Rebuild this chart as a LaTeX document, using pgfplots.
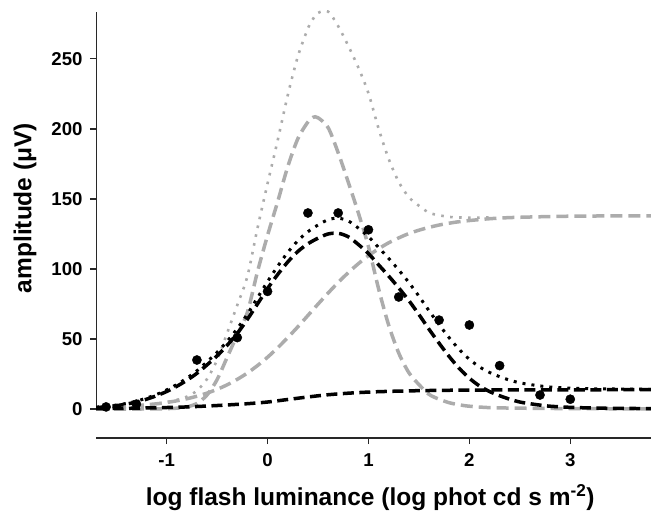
\documentclass[border=0pt]{standalone}
\usepackage{fontspec}
\setmainfont{Liberation Sans}
\usepackage{pgfplots}
\pgfplotsset{compat=1.18}
\definecolor{lgray}{RGB}{172,172,172}
\definecolor{axcol}{RGB}{40,40,40}
\begin{document}
\begin{tikzpicture}
\begin{axis}[name=ax, scale only axis, width=555bp, height=438bp,
  xmin=-1.7, xmax=3.8, ymin=-20.7, ymax=292.1,
  axis x line*=bottom, axis y line*=left,
  y axis line style={draw=none},
  x axis line style={line width=1.1bp, axcol},
  xtick={-1,0,1,2,3}, xticklabels={-1,0,1,2,3},
  ytick={0,50,100,150,200,250}, yticklabels={0,50,100,150,200,250},
  tick align=outside, major tick length=6bp,
  tick style={line width=1.1bp, axcol},
  /pgf/number format/assume math mode=true,
  ticklabel style={font=\fontsize{18.6bp}{20bp}\selectfont\bfseries},
  xticklabel style={yshift=-6bp},
  yticklabel style={xshift=-4bp},
  xlabel={log flash luminance (log phot cd s m\textsuperscript{-2})},
  ylabel={amplitude (μV)},
  label style={font=\fontsize{24.5bp}{26bp}\selectfont\bfseries},
  xlabel style={at={(axis description cs:0.494,-0.135)}, anchor=center},
  ylabel style={at={(axis description cs:-0.128,0.525)}, anchor=center},
]
% y axis line (from 0 up)
\draw[line width=1.1bp, axcol] (axis cs:-1.7,0) -- (axis cs:-1.7,283.6);

% gray sigmoid (dashed)
\addplot[lgray, line width=3.5bp, dash pattern=on 12bp off 6bp, smooth] coordinates {
(-1.7,0.93)(-1.5,1.48)(-1.3,2.35)(-1.1,3.72)(-1.0,4.67)(-0.9,5.86)(-0.8,7.32)(-0.7,9.14)(-0.6,11.36)(-0.5,14.05)(-0.4,17.3)(-0.3,21.2)(-0.2,25.7)(-0.1,31.0)(0.0,37.0)(0.1,43.7)(0.2,51.0)(0.3,58.7)(0.4,66.8)(0.5,74.9)(0.6,82.8)(0.7,90.4)(0.8,97.4)(0.9,103.8)(1.0,109.5)(1.1,114.4)(1.2,118.7)(1.3,122.2)(1.4,125.3)(1.5,127.7)(1.6,129.7)(1.7,131.4)(1.8,132.7)(1.9,133.8)(2.0,134.6)(2.2,135.9)(2.4,136.7)(2.7,137.3)(3.0,137.7)(3.4,137.9)(3.8,138.0)};
% gray peak (dashed)
\addplot[lgray, line width=3.5bp, dash pattern=on 12bp off 6bp, smooth] coordinates {
(-1.7,0)(-1.5,0)(-1.3,0)(-1.1,0.1)(-1.0,0.3)(-0.9,0.6)(-0.8,1.5)(-0.7,4)(-0.6,10)(-0.5,21)(-0.4,37)(-0.3,53)(-0.2,69)(-0.1,98)(0.0,124)(0.1,148)(0.2,173)(0.3,193)(0.4,205)(0.45,208.3)(0.5,208)(0.6,201)(0.7,183)(0.8,162)(0.9,140)(1.0,116)(1.1,86)(1.2,60)(1.3,40)(1.4,26)(1.5,17.5)(1.6,10.5)(1.7,7)(1.8,4.5)(1.9,3)(2.0,2)(2.2,1)(2.5,0.6)(3.0,0.3)(3.8,0.1)};
% gray sum (dotted)
\addplot[lgray, line width=2.6bp, dash pattern=on 2.6bp off 6.4bp, smooth] coordinates {
(-1.7,0.9)(-1.5,1.5)(-1.3,2.4)(-1.1,3.8)(-1.0,5.0)(-0.9,6.5)(-0.8,8.8)(-0.7,13.1)(-0.6,21.4)(-0.5,35)(-0.4,54.3)(-0.3,74.2)(-0.2,94.7)(-0.1,129)(0.0,161)(0.1,191.7)(0.2,224)(0.3,251.7)(0.4,271.8)(0.45,278.5)(0.5,282.9)(0.6,283.8)(0.7,273.4)(0.8,259.4)(0.9,243.8)(1.0,225.5)(1.1,200.4)(1.2,178.7)(1.3,162.2)(1.4,151.3)(1.5,145.2)(1.6,140.2)(1.7,138.4)(1.8,137.2)(1.9,136.8)(2.0,136.6)(2.2,136.9)};

% black sigmoid (dashed)
\addplot[black, line width=3.5bp, dash pattern=on 11bp off 5.5bp, smooth] coordinates {
(-1.7,0.3)(-1.4,0.5)(-1.1,0.9)(-0.8,1.5)(-0.5,2.5)(-0.2,3.8)(0.0,5.0)(0.2,6.8)(0.4,8.6)(0.6,10.2)(0.8,11.3)(1.0,12.1)(1.2,12.6)(1.5,13.1)(1.8,13.4)(2.2,13.6)(2.7,13.7)(3.8,13.8)};
% black peak (dashed)
\addplot[black, line width=3.5bp, dash pattern=on 11bp off 5.5bp, smooth] coordinates {
(-1.7,1.0)(-1.6,1.6)(-1.5,2.4)(-1.4,3.5)(-1.3,5.0)(-1.2,7.0)(-1.1,9.5)(-1.0,12.5)(-0.9,16.2)(-0.8,20.5)(-0.7,25.5)(-0.6,31.5)(-0.5,38)(-0.4,45.5)(-0.3,54)(-0.2,64)(-0.1,75)(0.0,86)(0.1,96)(0.2,105)(0.3,112.5)(0.4,118)(0.5,122)(0.6,125)(0.7,125.5)(0.8,123)(0.9,117.5)(1.0,111)(1.1,103)(1.2,95)(1.3,86.5)(1.4,77.5)(1.5,67.5)(1.6,57)(1.7,47)(1.8,37.5)(1.9,29)(2.0,22)(2.1,16.5)(2.2,12.5)(2.3,9.5)(2.4,7)(2.5,5)(2.6,3.8)(2.7,2.8)(2.8,2.0)(3.0,1.2)(3.3,0.6)(3.8,0.3)};
% black sum (dotted)
\addplot[black, line width=3bp, dash pattern=on 3bp off 6bp, smooth] coordinates {
(-1.7,1.3)(-1.6,2.0)(-1.5,2.8)(-1.4,4.0)(-1.3,5.6)(-1.2,7.8)(-1.1,10.4)(-1.0,13.6)(-0.9,17.5)(-0.8,22)(-0.7,27.3)(-0.6,33.7)(-0.5,40.5)(-0.4,48.4)(-0.3,57.4)(-0.2,67.8)(-0.1,79.4)(0.0,91)(0.1,101.9)(0.2,111.8)(0.3,120.2)(0.4,126.6)(0.5,131.4)(0.6,135.2)(0.7,136.3)(0.8,134.3)(0.9,129.2)(1.0,123.1)(1.1,115.4)(1.2,107.6)(1.3,99.3)(1.4,90.4)(1.5,80.6)(1.6,70.2)(1.7,60.3)(1.8,50.9)(1.9,42.5)(2.0,35.5)(2.1,30.1)(2.2,26.1)(2.3,23.1)(2.4,20.6)(2.5,18.7)(2.6,17.5)(2.7,16.5)(2.8,15.7)(3.0,14.9)(3.3,14.4)(3.8,14.1)};

% data points
\addplot[only marks, mark=*, mark size=4.6bp, black] coordinates {
(-1.6,1.5)(-1.3,3.5)(-0.7,35)(-0.3,51)(0,84)(0.4,140)(0.7,140)(1.0,128)(1.3,80)(1.7,63.5)(2.0,60)(2.3,31)(2.7,10)(3.0,7)};
\end{axis}
\pgfresetboundingbox
\path (ax.south west) ++(-96bp,-75bp) rectangle (ax.north east);
\end{tikzpicture}
\end{document}
